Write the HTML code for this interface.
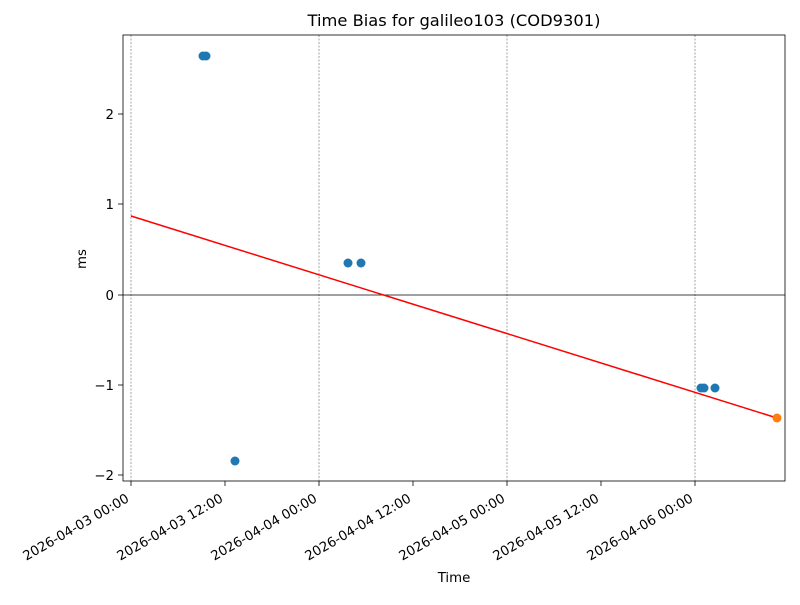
<!DOCTYPE html>
<html><head><meta charset="utf-8"><style>body{margin:0;background:#fff}</style></head>
<body>
<svg width="800" height="600" xmlns="http://www.w3.org/2000/svg" font-family="DejaVu Sans, Liberation Sans, sans-serif">
<rect width="800" height="600" fill="#fff"/>
<g stroke="#666" stroke-width="0.6" stroke-dasharray="2,1.5">
<line x1="131" y1="35" x2="131" y2="481"/>
<line x1="319" y1="35" x2="319" y2="481"/>
<line x1="507" y1="35" x2="507" y2="481"/>
<line x1="695" y1="35" x2="695" y2="481"/>
</g>
<line x1="123" y1="295" x2="785" y2="295" stroke="#000" stroke-width="0.8"/>
<line x1="131" y1="216" x2="777" y2="418" stroke="red" stroke-width="1.5"/>
<g fill="#1f77b4">
<circle cx="203" cy="56" r="4.5"/><circle cx="206" cy="56" r="4.5"/>
<circle cx="235" cy="461" r="4.5"/>
<circle cx="348" cy="263" r="4.5"/><circle cx="361" cy="263" r="4.5"/>
<circle cx="701" cy="388" r="4.5"/><circle cx="704" cy="388" r="4.5"/><circle cx="715" cy="388" r="4.5"/>
</g>
<circle cx="777" cy="418" r="4.5" fill="#ff7f0e"/>
<rect x="123" y="35" width="662" height="446" fill="none" stroke="#000" stroke-width="0.8"/>
<g stroke="#000" stroke-width="0.8">
<line x1="118" y1="114" x2="123" y2="114"/><line x1="118" y1="204" x2="123" y2="204"/>
<line x1="118" y1="295" x2="123" y2="295"/><line x1="118" y1="385" x2="123" y2="385"/>
<line x1="118" y1="475" x2="123" y2="475"/>
<line x1="131" y1="481" x2="131" y2="486"/><line x1="225" y1="481" x2="225" y2="486"/>
<line x1="319" y1="481" x2="319" y2="486"/><line x1="413" y1="481" x2="413" y2="486"/>
<line x1="507" y1="481" x2="507" y2="486"/><line x1="601" y1="481" x2="601" y2="486"/>
<line x1="695" y1="481" x2="695" y2="486"/>
</g>
<g font-size="13.3" text-anchor="end">
<text x="114" y="119">2</text><text x="114" y="209">1</text><text x="114" y="300">0</text>
<text x="114" y="390">−1</text><text x="114" y="480">−2</text>
</g>
<g font-size="13.3" text-anchor="end">
<text transform="translate(130,501) rotate(-30)">2026-04-03 00:00</text>
<text transform="translate(224,501) rotate(-30)">2026-04-03 12:00</text>
<text transform="translate(318,501) rotate(-30)">2026-04-04 00:00</text>
<text transform="translate(412,501) rotate(-30)">2026-04-04 12:00</text>
<text transform="translate(506,501) rotate(-30)">2026-04-05 00:00</text>
<text transform="translate(600,501) rotate(-30)">2026-04-05 12:00</text>
<text transform="translate(694,501) rotate(-30)">2026-04-06 00:00</text>
</g>
<text x="454" y="582" font-size="13.3" text-anchor="middle">Time</text>
<text transform="translate(86,259) rotate(-90)" font-size="13.3" text-anchor="middle">ms</text>
<text x="454" y="26" font-size="16.3" text-anchor="middle">Time Bias for galileo103 (COD9301)</text>
</svg>
</body></html>
